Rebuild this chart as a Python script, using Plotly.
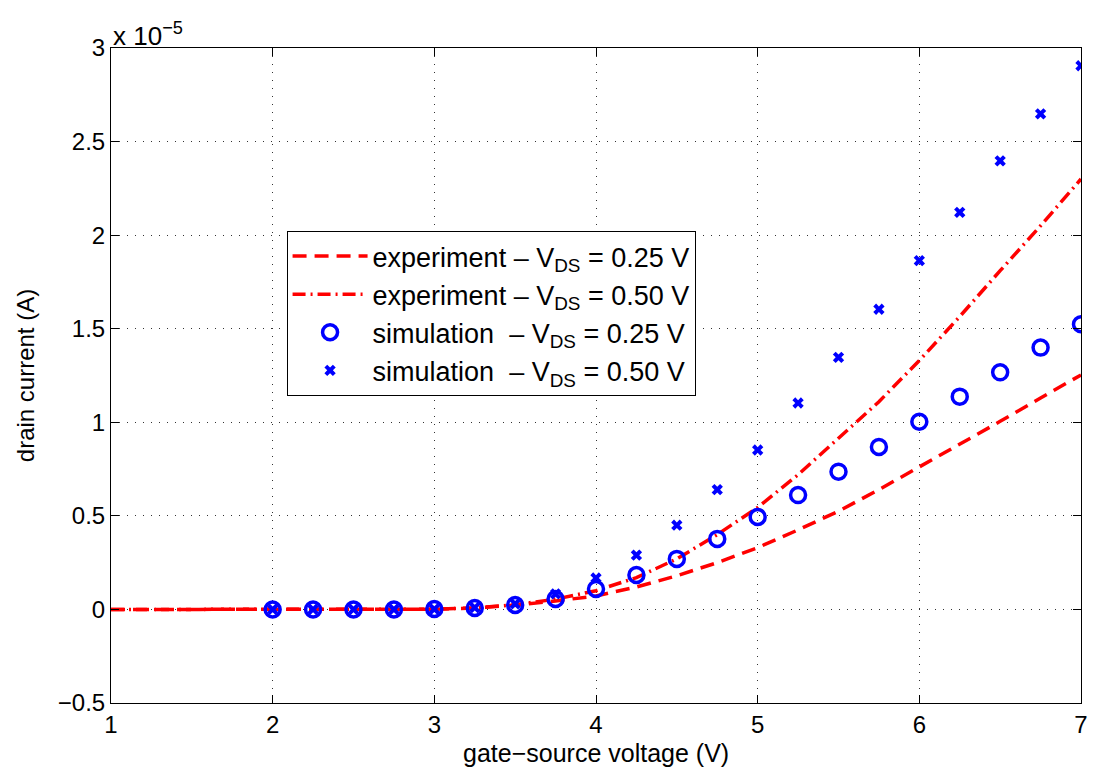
import plotly.graph_objects as go

# gate-source voltage (V)
vgs_exp = [1.0, 1.25, 1.5, 1.75, 2.0, 2.25, 2.5, 2.75, 3.0, 3.25, 3.5, 3.75, 4.0,
           4.25, 4.5, 4.75, 5.0, 5.25, 5.5, 5.75, 6.0, 6.25, 6.5, 6.75, 7.0]
# drain current in units of 1e-5 A
exp_025 = [0, 0, 0, 0, 0, 0, 0, 0, 0.001, 0.008, 0.022, 0.045, 0.072,
           0.12, 0.18, 0.25, 0.33, 0.425, 0.525, 0.64, 0.76, 0.88, 1.005, 1.13, 1.253]
exp_050 = [0, 0, 0, 0, 0, 0, 0, 0, 0.001, 0.008, 0.025, 0.055, 0.10,
           0.17, 0.27, 0.40, 0.545, 0.72, 0.915, 1.11, 1.33, 1.565, 1.81, 2.05, 2.30]

vgs_sim = [2.0, 2.25, 2.5, 2.75, 3.0, 3.25, 3.5, 3.75, 4.0, 4.25, 4.5, 4.75,
           5.0, 5.25, 5.5, 5.75, 6.0, 6.25, 6.5, 6.75, 7.0]
sim_025 = [0.0, 0.0, 0.0, 0.0, 0.002, 0.008, 0.024, 0.056, 0.109, 0.184, 0.27, 0.377,
           0.494, 0.611, 0.736, 0.868, 1.003, 1.137, 1.267, 1.399, 1.524]
sim_050 = [0.0, 0.0, 0.0, 0.0, 0.002, 0.01, 0.03, 0.083, 0.168, 0.29, 0.45, 0.64,
           0.852, 1.103, 1.347, 1.604, 1.864, 2.122, 2.397, 2.648, 2.905]

x_ticks = [1, 2, 3, 4, 5, 6, 7]
y_ticks = [-0.5, 0, 0.5, 1, 1.5, 2, 2.5, 3]
y_tick_text = ["\u22120.5", "0", "0.5", "1", "1.5", "2", "2.5", "3"]

FONT = "Liberation Sans"

fig = go.Figure()
fig.add_trace(go.Scatter(x=vgs_exp, y=exp_025, mode="lines",
                         line=dict(color="#ff0000", width=3.5, dash="14px,8px"),
                         name="experiment \u2013 V<sub>DS</sub> = 0.25 V"))
fig.add_trace(go.Scatter(x=vgs_exp, y=exp_050, mode="lines",
                         line=dict(color="#ff0000", width=3.5, dash="13px,5px,2px,5px"),
                         name="experiment \u2013 V<sub>DS</sub> = 0.50 V"))
fig.add_trace(go.Scatter(x=vgs_sim, y=sim_025, mode="markers",
                         marker=dict(symbol="circle-open", size=15, color="#0000ff",
                                     line=dict(width=3.5, color="#0000ff")),
                         name="simulation  \u2013 V<sub>DS</sub> = 0.25 V"))
fig.add_trace(go.Scatter(x=vgs_sim, y=sim_050, mode="markers",
                         marker=dict(symbol="x", size=10, color="#0000ff",
                                     line=dict(width=0)),
                         name="simulation  \u2013 V<sub>DS</sub> = 0.50 V"))

axis_common = dict(showline=True, linecolor="black", linewidth=1, mirror="ticks",
                   ticks="inside", ticklen=8, tickcolor="black",
                   showgrid=True, gridcolor="#333333", griddash="1px,7px", gridwidth=1,
                   zeroline=False, tickfont=dict(size=24, color="black", family=FONT))

fig.update_xaxes(range=[1, 7], tickvals=x_ticks, **axis_common)
fig.update_yaxes(range=[-0.5, 3], tickvals=y_ticks, ticktext=y_tick_text,
                 title=dict(text="drain current (A)", standoff=16,
                            font=dict(size=24, color="black", family=FONT)),
                 **axis_common)

# x-axis title as annotation so it can sit closer to the tick labels
fig.add_annotation(text="gate\u2212source voltage (V)", xref="paper", yref="paper",
                   x=0.5, y=0, xanchor="center", yanchor="top", showarrow=False,
                   font=dict(size=25, color="black", family=FONT), yshift=-34)

fig.add_annotation(text="x 10<sup>\u22125</sup>", xref="paper", yref="paper",
                   x=0, y=1, xanchor="left", yanchor="bottom", showarrow=False,
                   font=dict(size=26, color="black", family=FONT), yshift=-5)

fig.update_layout(
    width=1100, height=771,
    margin=dict(l=111, r=15, t=48, b=68),
    paper_bgcolor="white", plot_bgcolor="white",
    font=dict(family=FONT, color="black"),
    showlegend=True,
    legend=dict(x=0.181, y=0.7206, xanchor="left", yanchor="top",
                bordercolor="black", borderwidth=1, bgcolor="white",
                font=dict(size=27, color="black", family=FONT),
                tracegroupgap=0, itemwidth=75),
)

fig.write_html("out.html")
